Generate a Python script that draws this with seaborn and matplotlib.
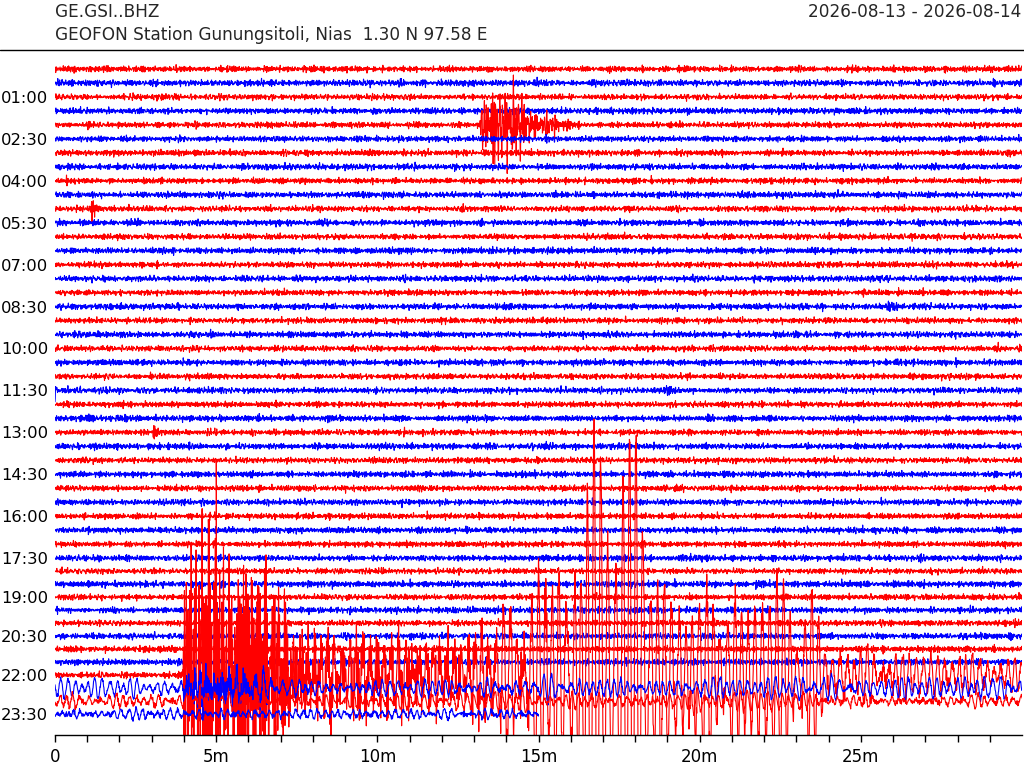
import numpy as np
import pandas as pd
import matplotlib
matplotlib.use("Agg")
import matplotlib.pyplot as plt
from matplotlib.lines import Line2D
import seaborn as sns

# ---------------- data ----------------
STATION = "GE.GSI..BHZ"
STATION_DESC = "GEOFON Station Gunungsitoli, Nias  1.30 N 97.58 E"
DATE_RANGE = "2026-08-13 - 2026-08-14"

N_ROWS = 48                      # one row = 30 minutes
ROW_COLORS = ["red", "blue"]     # alternating
ROW_LABEL_ROWS = [2, 5, 8, 11, 14, 17, 20, 23, 26, 29, 32, 35, 38, 41, 44, 47]
ROW_LABELS = ["01:00", "02:30", "04:00", "05:30", "07:00", "08:30", "10:00",
              "11:30", "13:00", "14:30", "16:00", "17:30", "19:00", "20:30",
              "22:00", "23:30"]
X_TICKS = [0, 1, 2, 3, 4, 5, 6, 7, 8, 9, 10, 11, 12, 13, 14, 15, 16, 17, 18,
           19, 20, 21, 22, 23, 24, 25, 26, 27, 28, 29]
X_LABELS = {0: "0", 5: "5m", 10: "10m", 15: "15m", 20: "20m", 25: "25m"}
LAST_ROW_END_MIN = 15.0

# background noise level of each row (typical excursion, row units)
NOISE_AMP = [0.19, 0.20, 0.18, 0.19, 0.18, 0.18, 0.19, 0.19, 0.18, 0.19,
             0.18, 0.19, 0.18, 0.19, 0.18, 0.19, 0.18, 0.19, 0.18, 0.19,
             0.18, 0.19, 0.18, 0.19, 0.18, 0.19, 0.18, 0.19, 0.18, 0.19,
             0.18, 0.19, 0.18, 0.19, 0.18, 0.19, 0.18, 0.20, 0.18, 0.19,
             0.18, 0.19, 0.19, 0.19, 0.18, 0.16, 0.17, 0.15]

# small local events: row, envelope knots (minutes) and amplitudes
EV_ROW = [4, 10, 17, 23, 26]
EV_T = [[13.15, 13.25, 13.6, 14.2, 14.6, 15.0, 15.5, 16.0, 16.5],
        [1.08, 1.13, 1.3, 1.6],
        [25.8, 25.95, 26.3],
        [18.8, 18.95, 19.3],
        [2.95, 3.1, 3.45]]
EV_A = [[0.0, 2.0, 2.3, 2.2, 1.5, 0.9, 0.55, 0.3, 0.0],
        [0.0, 0.9, 0.3, 0.0],
        [0.0, 0.4, 0.0],
        [0.0, 0.4, 0.0],
        [0.0, 0.45, 0.0]]

# the large earthquake (rows 22:00 - 23:30): high- and long-period envelopes
Q_ROW = [44, 45, 46, 47]
Q_HF_T = [[0, 3.95, 4.05, 4.3, 5.0, 5.5, 6.0, 6.5, 7.0, 7.5, 8.5, 10, 13, 16, 20, 24, 30],
          [0, 3.95, 4.1, 5.0, 6.2, 7.0, 30],
          [0, 30],
          [0, 30]]
Q_HF_A = [[0.18, 0.18, 9.0, 11.0, 10.5, 9.5, 8.0, 6.5, 4.5, 2.8, 2.0, 1.8, 1.6, 1.3, 1.1, 0.6, 0.3],
          [0.14, 0.14, 1.1, 1.0, 0.6, 0.15, 0.15],
          [0.16, 0.16],
          [0.14, 0.14]]
Q_LP_T = [[0, 3.95, 4.1, 4.6, 4.8, 5.0, 5.3, 6.0, 6.8, 7.4, 8, 10, 12, 13.5, 14.5, 15.5,
           16.3, 16.8, 17.3, 17.8, 18.2, 18.5, 19.0, 20.0, 20.8, 21.5, 22.4, 23.0, 23.4,
           24.0, 25, 27, 30],
          [0, 4, 4.2, 5, 6, 7, 8, 15, 20, 25, 30],
          [0, 4, 8, 15, 20, 24, 26, 30],
          [0, 15]]
Q_LP_A = [[0, 0, 1, 3, 4, 3, 2, 2, 1.8, 1.5, 1.4, 1.5, 1.7, 2.3, 3.8, 6.0,
           9.5, 12.5, 16, 13.5, 10.5, 6, 4.5, 4.5, 6.5, 4, 5.5, 4, 3.5,
           2, 1.3, 1.1, 1.0],
          [0.6, 0.6, 0.68, 0.68, 0.6, 0.48, 0.44, 0.44, 0.48, 0.48, 0.56],
          [0.32, 0.32, 0.36, 0.44, 0.48, 0.36, 0.28, 0.24],
          [0.22, 0.22]]
Q_LP_MIX = [0.35, 0.9, 0.9, 0.9]
SAMPLES_PER_MIN = [140, 260]     # quiet rows, earthquake rows

# waveform texture bands (cycles per minute)
HF_BAND = (6.0, 42.0)
LP_MAIN = 4.6
LP_BAND = (3.2, 6.2)

# ---------------- build the traces ----------------
def texture(t, band, n, key, main=None, mix=0.45, level=0.5):
    """deterministic quasi-noise: sum of sinusoids with scattered frequencies"""
    k = np.arange(1, n + 1)[:, None]
    u = (k * k * 0.4142135624 + k * k * k * 0.00915 + k * 0.5698402910
         + key * 0.3819660113) % 1.0
    f = band[0] + (band[1] - band[0]) * u
    ph = 2 * np.pi * ((k * 0.7320508076 + key * k * 0.7071067812 + key * 0.1732) % 1.0)
    s = np.sin(2 * np.pi * f * t[None, :] + ph).sum(axis=0)
    if main is not None:
        s = mix * s / np.sqrt(n / 2.0) + np.sin(2 * np.pi * main * t + key * 0.9)
    return s / s.std() * level


def row_base(i):
    return -float(i) if i <= 35 else -(35.0 + (i - 35) * 0.93)


frames = []
for i in range(N_ROWS):
    t_end = LAST_ROW_END_MIN if i == N_ROWS - 1 else 30.0
    spm = SAMPLES_PER_MIN[1] if i in Q_ROW else SAMPLES_PER_MIN[0]
    t = np.linspace(0.0, t_end, int(t_end * spm) + 1)
    y = NOISE_AMP[i] * texture(t, HF_BAND, 120, i)
    for r, kt, ka in zip(EV_ROW, EV_T, EV_A):
        if r == i:
            y = y + np.interp(t, kt, ka, left=0, right=0) * texture(t, HF_BAND, 120, i + 100)
    for j, r in enumerate(Q_ROW):
        if r == i:
            y = (np.interp(t, Q_HF_T[j], Q_HF_A[j]) * texture(t, HF_BAND, 120, i + 200)
                 + np.interp(t, Q_LP_T[j], Q_LP_A[j])
                 * texture(t, LP_BAND, 10, i + 300, main=LP_MAIN, mix=Q_LP_MIX[j],
                           level=0.72))
    frames.append(pd.DataFrame({"minute": t, "value": y + row_base(i), "row": i}))

# ---------------- plot ----------------
sns.set_theme(style="white")
plt.rcParams["font.family"] = ["DejaVu Sans"]

fig = plt.figure(figsize=(10.24, 7.68), dpi=100)
ax = fig.add_axes([55 / 1024, 33 / 768, 967 / 1024, 680 / 768])

for df in frames:
    i = int(df["row"].iloc[0])
    sns.lineplot(data=df, x="minute", y="value", color=ROW_COLORS[i % 2],
                 lw=0.8, estimator=None, sort=False, ax=ax, zorder=2 + i * 0.01)

ax.set_xlim(0, 30)
ax.set_ylim(row_base(47) - 1.5, 1.0)
ax.set_xticks(X_TICKS)
ax.set_xticklabels([X_LABELS.get(v, "") for v in X_TICKS])
ax.set_yticks([row_base(r) for r in ROW_LABEL_ROWS])
ax.set_yticklabels(ROW_LABELS)
ax.set_xlabel("")
ax.set_ylabel("")
for s in ["top", "right", "left"]:
    ax.spines[s].set_visible(False)
ax.spines["bottom"].set_color("black")
ax.spines["bottom"].set_linewidth(1.0)
ax.tick_params(axis="x", direction="out", length=5, width=1, color="black",
               bottom=True, labelsize=12, pad=4, labelcolor="black")
ax.tick_params(axis="y", length=0, labelsize=11.8, pad=5, labelcolor="black")
ax.grid(False)

fig.text(55 / 1024, 1 - 12 / 768, STATION, ha="left", va="center", fontsize=12.2)
fig.text(55 / 1024, 1 - 35 / 768, STATION_DESC, ha="left", va="center", fontsize=12.2)
fig.text(1021 / 1024, 1 - 12 / 768, DATE_RANGE, ha="right", va="center", fontsize=12.2)
fig.add_artist(Line2D([0, 1], [1 - 50 / 768, 1 - 50 / 768], color="black", lw=1,
                      transform=fig.transFigure))

fig.savefig("out.png", dpi=100)
